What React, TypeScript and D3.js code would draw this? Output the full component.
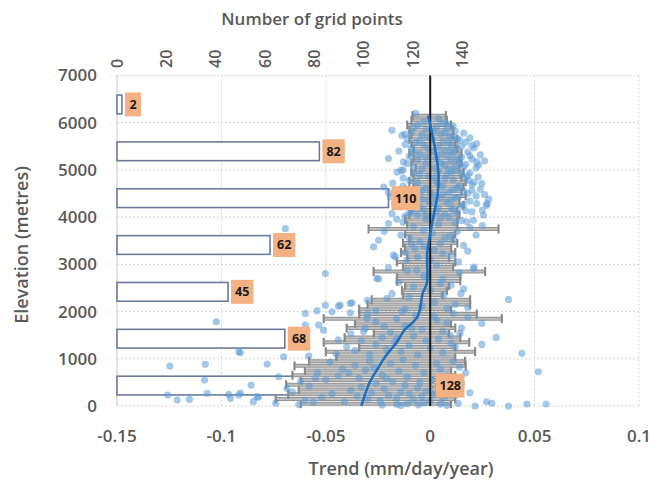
import React from 'react';
import * as d3 from 'd3';

const W = 654;
const H = 488;

// Elevation bands of the grid-point histogram and their counts
const bandLabels = ['0-1000', '1000-2000', '2000-3000', '3000-4000', '4000-5000', '5000-6000', '6000-7000'];
const gridCounts = [128, 68, 45, 62, 110, 82, 2];

// Axis ticks
const xTicks = [-0.15, -0.1, -0.05, 0, 0.05, 0.1];
const xTickLabels = ['-0.15', '-0.1', '-0.05', '0', '0.05', '0.1'];
const yTicks = [0, 1000, 2000, 3000, 4000, 5000, 6000, 7000];
const topTicks = [0, 20, 40, 60, 80, 100, 120, 140];

// Smoothed trend profile: [elevation, trend]
const smoothProfile: [number, number][] = [
  [0, -0.033], [500, -0.029], [800, -0.025], [1050, -0.0215], [1350, -0.016],
  [1600, -0.0125], [1900, -0.006], [2400, -0.0035], [2600, -0.0016], [3250, -0.0014],
  [3650, 0.0], [4100, 0.0019], [4500, 0.0036], [4900, 0.004], [5300, 0.0029],
  [5800, 0.0008], [6150, -0.001],
];

// 100 m elevation bins: [bin centre, lower bound, upper bound]
const binRanges: [number, number, number][] = [
  [50, -0.062, 0.010], [150, -0.074, 0.012], [250, -0.068, 0.008], [350, -0.063, 0.011],
  [450, -0.069, 0.009], [550, -0.062, 0.012], [650, -0.066, 0.012], [750, -0.060, 0.010],
  [850, -0.065, 0.017], [950, -0.058, 0.0167], [1050, -0.045, 0.012], [1150, -0.050, 0.0215],
  [1250, -0.034, 0.012], [1350, -0.051, 0.0187], [1450, -0.041, 0.0144], [1550, -0.027, 0.009],
  [1650, -0.040, 0.012], [1750, -0.036, 0.010], [1850, -0.051, 0.0343], [1950, -0.034, 0.0223],
  [2050, -0.034, 0.010], [2150, -0.030, 0.0191], [2250, -0.028, 0.0191], [2350, -0.013, 0.006],
  [2450, -0.0135, 0.008], [2550, -0.012, 0.009], [2650, -0.016, 0.0144], [2750, -0.0159, 0.0144],
  [2850, -0.0271, 0.0263], [2950, -0.013, 0.011], [3050, -0.016, 0.012], [3150, -0.011, 0.009],
  [3250, -0.014, 0.012], [3350, -0.012, 0.010], [3450, -0.013, 0.013], [3550, -0.010, 0.011],
  [3650, -0.012, 0.012], [3750, -0.0295, 0.0327], [3850, -0.011, 0.013], [3950, -0.012, 0.013],
  [4050, -0.010, 0.014], [4150, -0.009, 0.013], [4250, -0.011, 0.016], [4350, -0.008, 0.014],
  [4450, -0.010, 0.017], [4550, -0.009, 0.015], [4650, -0.008, 0.016], [4750, -0.010, 0.017],
  [4850, -0.008, 0.015], [4950, -0.009, 0.016], [5050, -0.007, 0.014], [5150, -0.009, 0.015],
  [5250, -0.008, 0.014], [5350, -0.010, 0.015], [5450, -0.008, 0.013], [5550, -0.009, 0.012],
  [5650, -0.010, 0.013], [5750, -0.009, 0.011], [5850, -0.010, 0.011], [5950, -0.011, 0.010],
  [6050, -0.009, 0.008], [6150, -0.0085, 0.0075],
];

// Grid-point trends: [trend, elevation]
const points0to1000: [number, number][] = [
  [-0.1247, 846], [-0.1257, 233], [-0.1212, 127], [-0.1153, 142], [-0.1068, 269], [-0.1077, 882],
  [-0.1081, 550], [-0.0965, 247], [-0.0957, 163], [-0.0917, 233], [-0.0909, 275], [-0.0858, 444],
  [-0.0829, 197], [-0.0847, 91], [-0.0781, 888], [-0.0726, 620], [-0.0686, 374], [-0.0822, 184],
  [-0.055, 586], [-0.074, 60], [-0.063, 30], [-0.056, 80], [-0.023, 20], [-0.016, 35], [-0.014, 10],
  [-0.011, 50], [-0.0057, 25], [-0.003, 70], [0.0048, 40], [0.008, 15], [0.0134, 55], [0.0215, 0],
  [0.027, 90], [0.0295, 57], [0.0375, 0], [0.0463, 42], [0.0555, 42], [0.0518, 725],
  [-0.060, 120], [-0.052, 180], [-0.047, 260], [-0.041, 90], [-0.038, 330], [-0.035, 210],
  [-0.033, 400], [-0.030, 150], [-0.028, 280], [-0.026, 480], [-0.024, 110], [-0.022, 360],
  [-0.020, 230], [-0.018, 520], [-0.016, 170], [-0.014, 300], [-0.012, 440], [-0.010, 260],
  [-0.008, 140], [-0.006, 380], [-0.004, 200], [-0.002, 310], [0.000, 100], [0.002, 250],
  [0.004, 420], [0.006, 160], [0.009, 340], [0.012, 220], [0.015, 470], [-0.058, 420],
  [-0.050, 560], [-0.044, 640], [-0.039, 700], [-0.034, 590], [-0.031, 760], [-0.027, 820],
  [-0.023, 660], [-0.019, 900], [-0.015, 740], [-0.011, 610], [-0.007, 860], [-0.003, 700],
  [0.001, 560], [0.005, 780], [0.008, 640], [0.011, 940], [0.014, 820], [-0.048, 930],
  [-0.042, 780], [-0.036, 860], [-0.054, 700], [-0.062, 520], [-0.029, 960], [-0.021, 580],
  [-0.013, 980], [-0.005, 500], [0.003, 900], [0.017, 700], [0.019, 280], [-0.066, 300],
];

const points1000to2000: [number, number][] = [
  [-0.1024, 1783], [-0.0909, 1127], [-0.0917, 1148], [-0.0702, 1043], [-0.0598, 1713], [-0.0534, 1713],
  [-0.0511, 1607], [-0.0319, 1571], [-0.0311, 1643], [0.0316, 1453], [0.0247, 1305], [0.0439, 1115],
  [-0.0582, 1057], [-0.047, 1994], [-0.0598, 1960], [-0.0383, 1973], [-0.0303, 1855], [-0.0135, 1994],
  [-0.0088, 1643], [-0.0159, 1432], [0.0032, 1819], [0.0096, 1502], [0.0143, 1538], [0.0247, 1749],
  [-0.045, 1100], [-0.040, 1250], [-0.036, 1180], [-0.033, 1380], [-0.029, 1090], [-0.026, 1300],
  [-0.023, 1450], [-0.021, 1200], [-0.019, 1560], [-0.017, 1350], [-0.014, 1150], [-0.012, 1700],
  [-0.010, 1280], [-0.008, 1480], [-0.006, 1080], [-0.004, 1620], [-0.002, 1380], [0.000, 1230],
  [0.002, 1900], [0.004, 1420], [0.006, 1130], [0.008, 1760], [0.010, 1330], [0.012, 1250],
  [0.015, 1650], [0.018, 1880], [-0.026, 1780], [-0.038, 1530], [-0.044, 1400], [-0.016, 1840],
  [-0.007, 1920], [0.006, 1580], [-0.030, 1950], [-0.022, 1680], [0.011, 1960],
];

const points2000to3000: [number, number][] = [
  [-0.0502, 2806], [-0.0064, 2876], [0.0048, 2595], [0.0375, 2257], [0.0147, 2384], [-0.0431, 2136],
  [-0.0375, 2185], [-0.0542, 2016], [-0.0502, 2136], [-0.0439, 2115], [-0.0383, 2172], [-0.0183, 2384],
  [-0.0207, 2278], [0.0064, 2348], [0.008, 2066], [-0.0255, 2701], [-0.0247, 2690], [-0.012, 2050],
  [-0.004, 2120], [0.002, 2200], [0.012, 2150], [0.018, 2080], [-0.010, 2300], [0.000, 2450],
  [-0.008, 2520], [0.010, 2560], [-0.015, 2620], [0.006, 2680], [-0.003, 2750], [0.014, 2820],
  [0.021, 2940], [-0.020, 2930], [-0.011, 2870], [0.003, 2980], [0.0207, 2912], [-0.030, 2240],
  [-0.026, 2020], [0.016, 2480],
];

const points3000to4000: [number, number][] = [
  [-0.0271, 3369], [-0.0247, 3511], [-0.0167, 3158], [-0.020, 3864], [-0.0176, 3194], [-0.0032, 3722],
  [0.0096, 3617], [0.0048, 3441], [-0.0072, 3335], [-0.0112, 3088], [0.0176, 3900], [-0.0694, 3758],
  [0.0135, 3052], [0.0207, 3934], [-0.012, 3250], [0.002, 3300], [0.010, 3180], [0.016, 3400],
  [-0.005, 3480], [0.007, 3560], [-0.014, 3620], [0.013, 3700], [-0.008, 3800], [0.004, 3850],
  [0.019, 3780], [-0.002, 3950], [0.009, 3990], [-0.016, 3960], [0.022, 3620], [0.000, 3100],
  [0.018, 3280], [-0.009, 3430], [0.012, 3880], [-0.022, 3700], [0.025, 3820], [-0.006, 3150],
  [0.006, 3230], [-0.003, 3380], [0.011, 3520], [-0.010, 3560], [0.001, 3660], [0.015, 3930],
  [-0.013, 3890], [0.005, 3980],
];

const points4000to5000: [number, number][] = [
  [0.0183, 4780], [0.020, 4568], [0.0135, 4427], [-0.0159, 4955], [-0.0223, 4638], [-0.0191, 4427],
  [0.0247, 4710], [0.0271, 4287], [0.0255, 4040], [0.0223, 4287], [0.0271, 4251], [-0.0183, 4076],
  [0.020, 4110], [-0.012, 4020], [-0.006, 4050], [0.001, 4030], [0.007, 4070], [0.013, 4090],
  [0.017, 4140], [-0.009, 4130], [-0.003, 4160], [0.004, 4180], [0.010, 4200], [0.015, 4230],
  [-0.014, 4220], [-0.007, 4260], [0.002, 4300], [0.008, 4320], [0.019, 4340], [-0.011, 4360],
  [-0.004, 4380], [0.005, 4400], [0.012, 4420], [0.022, 4450], [-0.016, 4470], [-0.008, 4490],
  [0.000, 4510], [0.009, 4530], [0.016, 4550], [0.024, 4590], [-0.012, 4600], [-0.002, 4620],
  [0.006, 4650], [0.014, 4660], [0.020, 4690], [-0.018, 4720], [-0.006, 4740], [0.003, 4760],
  [0.011, 4790], [0.017, 4820], [0.023, 4850], [-0.013, 4830], [-0.001, 4870], [0.008, 4890],
  [0.015, 4910], [-0.008, 4930], [0.004, 4960], [0.012, 4980], [0.019, 4940], [-0.020, 4520],
  [0.026, 4480], [0.028, 4380], [-0.017, 4300], [-0.010, 4080], [0.003, 4110], [0.011, 4150],
  [-0.005, 4210], [0.016, 4270], [-0.001, 4340], [0.010, 4360], [-0.009, 4410], [0.002, 4440],
  [0.018, 4500], [-0.004, 4560], [0.011, 4580], [-0.013, 4660], [0.004, 4700], [0.021, 4740],
  [-0.010, 4780], [0.007, 4810], [0.002, 4840], [-0.005, 4900], [0.018, 4880], [0.010, 4950],
  [-0.014, 4990], [0.025, 4150], [-0.002, 4040], [0.006, 4480], [0.013, 4620], [-0.007, 4640],
];

const points5000to6000: [number, number][] = [
  [-0.0183, 5840], [-0.0135, 5730], [-0.020, 5240], [-0.0128, 5170], [0.0223, 5560], [0.020, 5520],
  [0.0111, 5700], [0.0223, 5170], [0.0231, 5100], [-0.006, 5950], [0.003, 5920], [0.008, 5880],
  [-0.002, 5860], [0.012, 5820], [-0.009, 5800], [0.016, 5780], [0.005, 5760], [-0.004, 5740],
  [0.009, 5710], [0.019, 5680], [-0.011, 5660], [0.001, 5650], [0.014, 5630], [0.006, 5600],
  [-0.007, 5580], [0.017, 5590], [0.010, 5540], [-0.003, 5530], [0.004, 5500], [0.021, 5470],
  [-0.009, 5460], [0.013, 5440], [0.007, 5420], [-0.015, 5400], [0.001, 5390], [0.018, 5380],
  [0.011, 5350], [-0.005, 5340], [0.024, 5320], [0.008, 5300], [-0.010, 5290], [0.015, 5270],
  [0.003, 5250], [0.020, 5230], [-0.006, 5220], [0.010, 5200], [0.026, 5190], [0.005, 5150],
  [-0.002, 5130], [0.017, 5120], [0.012, 5080], [-0.008, 5060], [0.022, 5040], [0.002, 5030],
  [0.009, 5010], [-0.013, 5000], [0.008, 5979], [-0.003, 6020], [0.006, 5990], [-0.008, 5900],
  [0.011, 5930], [0.002, 5830], [-0.012, 5760], [0.007, 5790], [-0.001, 5690], [0.013, 5660],
  [-0.005, 5620], [0.009, 5570], [-0.012, 5540], [0.015, 5500], [-0.001, 5450], [0.010, 5410],
  [-0.008, 5370], [0.005, 5330], [0.019, 5300], [-0.002, 5270], [0.013, 5220], [-0.011, 5140],
  [0.007, 5100], [0.016, 5060], [-0.004, 5020], [0.014, 5170],
];

const points6000to7000: [number, number][] = [[-0.007, 6200], [0.004, 6080]];

const allPoints = [
  ...points0to1000, ...points1000to2000, ...points2000to3000, ...points3000to4000,
  ...points4000to5000, ...points5000to6000, ...points6000to7000,
];

const FONT = "'Open Sans', 'DejaVu Sans', sans-serif";
const GREY_TEXT = '#595959';

export default function App() {
  const x = d3.scaleLinear().domain([-0.15, 0.1]).range([117, 639]);
  const y = d3.scaleLinear().domain([0, 7000]).range([406, 75.5]);
  const xTop = d3.scaleLinear().domain([0, 211.5]).range([117, 639]);
  const yBand = d3.scaleBand<string>().domain(bandLabels).range([409, 81]).paddingInner(0.6).paddingOuter(0.3);

  const profilePath = d3
    .line<[number, number]>()
    .x((d) => x(d[1]))
    .y((d) => y(d[0]))
    .curve(d3.curveCatmullRom.alpha(0.5))(smoothProfile) as string;

  const [x0, x1] = x.range();
  const [yBottom, yTop] = y.range();

  return (
    <svg width={W} height={H} style={{ position: 'absolute', left: 0, top: 0, background: '#fff' }} fontFamily={FONT}>
      {/* gridlines */}
      {yTicks.map((t) => (
        <line key={'gy' + t} x1={x0} x2={x1} y1={y(t)} y2={y(t)} stroke="#d4d4d4" strokeWidth={1} strokeDasharray="2,2" />
      ))}
      {xTicks.filter((t) => t !== -0.15 && t !== 0).map((t) => (
        <line key={'gx' + t} x1={x(t)} x2={x(t)} y1={yTop} y2={yBottom} stroke="#d4d4d4" strokeWidth={1} strokeDasharray="2,2" />
      ))}
      <line x1={x0} x2={x0} y1={yTop} y2={yBottom} stroke="#d0d0d0" strokeWidth={1.2} />

      {/* histogram of grid points per elevation band */}
      {bandLabels.map((b, i) => (
        <rect
          key={'bar' + b}
          x={xTop(0)}
          y={yBand(b)}
          width={xTop(gridCounts[i]) - xTop(0)}
          height={yBand.bandwidth()}
          fill="#fff"
          stroke="#6a7b9c"
          strokeWidth={1.6}
        />
      ))}

      {/* bin ranges */}
      {binRanges.map(([e, lo, hi]) => {
        const yy = y(e);
        return (
          <g key={'bin' + e}>
            <line x1={x(lo)} x2={x(hi)} y1={yy} y2={yy} stroke="#939393" strokeWidth={4} />
            <line x1={x(lo)} x2={x(hi)} y1={yy} y2={yy} stroke="#bdbdbd" strokeWidth={2} />
            <line x1={x(lo)} x2={x(lo)} y1={yy - 4.5} y2={yy + 4.5} stroke="#8a8a8a" strokeWidth={2.2} />
            <line x1={x(hi)} x2={x(hi)} y1={yy - 4.5} y2={yy + 4.5} stroke="#8a8a8a" strokeWidth={2.2} />
          </g>
        );
      })}

      {/* grid-point trends */}
      {allPoints.map(([t, e], i) => (
        <circle key={'p' + i} cx={x(t)} cy={y(e)} r={3.6} fill="rgba(91,155,213,0.55)" />
      ))}

      {/* zero line */}
      <line x1={x(0)} x2={x(0)} y1={yTop} y2={yBottom} stroke="#1a1a1a" strokeWidth={2} />

      {/* smoothed profile */}
      <path d={profilePath} fill="none" stroke="#1f70c1" strokeWidth={2.6} />

      {/* count labels */}
      {bandLabels.map((b, i) => {
        const label = String(gridCounts[i]);
        const w = 10 + 6.2 * label.length;
        const cy = (yBand(b) as number) + yBand.bandwidth() / 2;
        const lx = xTop(gridCounts[i]) + 3;
        return (
          <g key={'lab' + b}>
            <rect x={lx} y={cy - 12} width={w} height={24} fill="#f4b183" />
            <text x={lx + w / 2} y={cy} dy="0.35em" textAnchor="middle" fontSize={12.5} fontWeight={700} fill="#1a1a1a">
              {label}
            </text>
          </g>
        );
      })}

      {/* left axis labels */}
      {yTicks.map((t) => (
        <text key={'yl' + t} x={97} y={y(t)} dy="0.35em" textAnchor="end" fontSize={17} fontWeight={600} fill={GREY_TEXT}>
          {t}
        </text>
      ))}
      {/* bottom axis labels */}
      {xTicks.map((t, i) => (
        <text key={'xl' + t} x={x(t)} y={436} dy="0.35em" textAnchor="middle" fontSize={17} fontWeight={600} fill={GREY_TEXT}>
          {xTickLabels[i]}
        </text>
      ))}
      {/* top axis labels */}
      {topTicks.map((t) => (
        <text
          key={'tl' + t}
          transform={`translate(${xTop(t)},68) rotate(-90)`}
          dy="0.35em"
          textAnchor="start"
          fontSize={16}
          fontWeight={600}
          fill={GREY_TEXT}
        >
          {t}
        </text>
      ))}

      {/* axis titles */}
      <text x={312} y={19} dy="0.35em" textAnchor="middle" fontSize={17} fontWeight={600} fill={GREY_TEXT}>
        Number of grid points
      </text>
      <text x={401} y={469} dy="0.35em" textAnchor="middle" fontSize={18} fontWeight={600} fill={GREY_TEXT}>
        Trend (mm/day/year)
      </text>
      <text transform="translate(22,245) rotate(-90)" dy="0.35em" textAnchor="middle" fontSize={18} fontWeight={600} fill={GREY_TEXT}>
        Elevation (metres)
      </text>
    </svg>
  );
}
